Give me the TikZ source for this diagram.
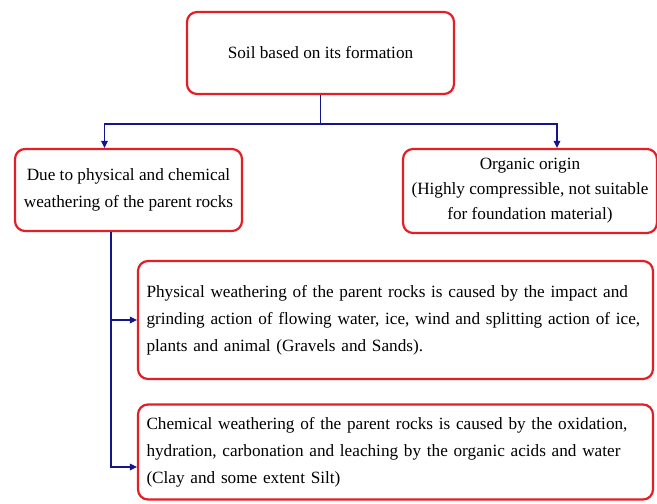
\documentclass[tikz,border=0pt]{standalone}
\usepackage{fontspec}
\setmainfont{Liberation Serif}
\usetikzlibrary{arrows.meta}
\definecolor{boxred}{RGB}{228,30,38}
\definecolor{linkblue}{RGB}{20,20,140}
\begin{document}
\begin{tikzpicture}[x=1pt,y=-1pt,
  box/.style={draw=boxred,line width=2.2pt,rounded corners=10pt,fill=white,
    font=\fontsize{17.2}{27}\selectfont,inner xsep=8.5pt},
  wide/.style={box,minimum width=515pt,text width=498pt,align=left},
  link/.style={draw=linkblue,line width=1.6pt},
  tip/.style={-{Triangle[length=7pt,width=6.5pt]}}]
\useasboundingbox (0,0) rectangle (657,504);
\clip (0,0) rectangle (657,504);
\node[box,minimum width=267pt,minimum height=82pt] (top) at (320.5,53) {Soil based on its formation};
\node[box,minimum width=227pt,minimum height=82pt,align=center] (phys) at (128.5,190)
  {Due to physical and chemical\\weathering of the parent rocks};
\node[box,minimum width=246pt,minimum height=84pt,align=center,inner ysep=2pt,
  font=\fontsize{17.2}{25}\selectfont] (org) at (530,191)
  {Organic origin\\(Highly compressible, not suitable\\for foundation material)};
\node[wide,minimum height=118pt] (pw) at (395.5,320)
  {Physical weathering of the parent rocks is caused by the impact and\\
   grinding action of flowing water, ice, wind and splitting action of ice,\\
   plants and animal (Gravels and Sands).};
\node[wide,minimum height=95pt] (cw) at (395.5,452)
  {Chemical weathering of the parent rocks is caused by the oxidation,\\
   hydration, carbonation and leaching by the organic acids and water\\
   (Clay and some extent Silt)};
% connectors
\coordinate (bar) at (top.south |- 0,124);
\draw[link] (top.south) -- (bar);
\draw[link,tip] (bar) -| ([xshift=-24pt]phys.north);
\draw[link,tip] (bar) -| ([xshift=27pt]org.north);
\draw[link,tip] ([xshift=-17.5pt]phys.south) |- (pw.west);
\draw[link,tip] ([xshift=-17.5pt]phys.south) |- ([yshift=-15pt]cw.west);
\end{tikzpicture}
\end{document}
